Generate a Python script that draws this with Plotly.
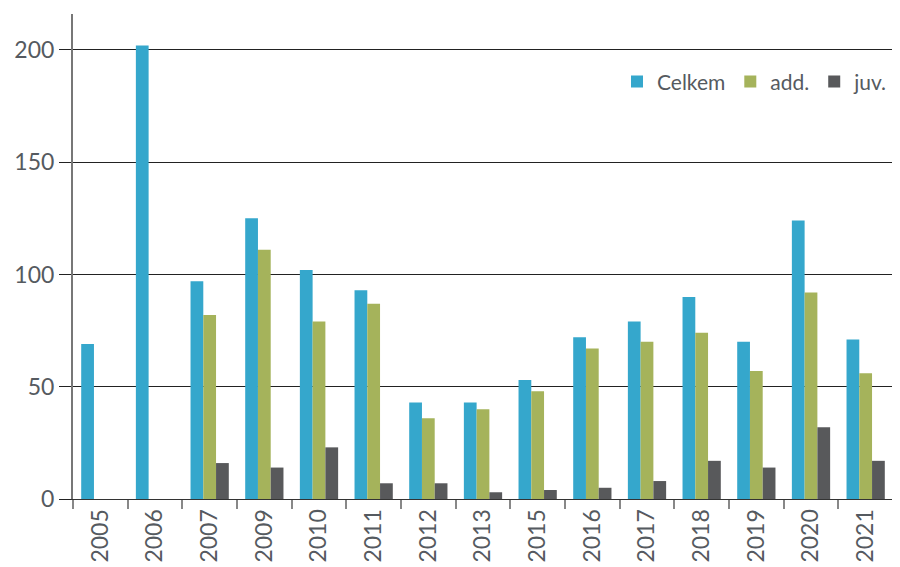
import plotly.graph_objects as go

years = ["2005", "2006", "2007", "2009", "2010", "2011", "2012", "2013",
         "2015", "2016", "2017", "2018", "2019", "2020", "2021"]
celkem = [69, 202, 97, 125, 102, 93, 43, 43, 53, 72, 79, 90, 70, 124, 71]
add_vals = [None, None, 82, 111, 79, 87, 36, 40, 48, 67, 70, 74, 57, 92, 56]
juv_vals = [None, None, 16, 14, 23, 7, 7, 3, 4, 5, 8, 17, 14, 32, 17]

names = ["Celkem", "add.", "juv."]
colors = ["#35a7cc", "#a5b35b", "#58595b"]

fig = go.Figure()
for n, vals, c in zip(names, [celkem, add_vals, juv_vals], colors):
    fig.add_trace(go.Bar(x=years, y=vals, name=n, marker=dict(color=c, line=dict(width=0))))

fig.update_layout(
    width=892, height=559,
    margin=dict(l=65, r=7, t=6, b=68, autoexpand=False),
    plot_bgcolor="white", paper_bgcolor="white",
    barmode="group", bargap=0.3, bargroupgap=0,
    font=dict(family="Lato, Open Sans, sans-serif", size=22, color="#555a60"),
    legend=dict(orientation="h", x=1.0, xanchor="right", y=0.86, yanchor="middle",
                font=dict(size=21, color="#555a60"), itemwidth=30, traceorder="normal",
                bgcolor="rgba(0,0,0,0)", tracegroupgap=0),
    showlegend=True,
)
fig.update_xaxes(
    type="category", tickangle=-90, showline=True, linecolor="#333333", linewidth=1,
    ticks="outside", tickson="boundaries", ticklen=9, tickcolor="#888888", tickwidth=2,
    showgrid=False, tickfont=dict(size=23, color="#555a60"), automargin=False,
)
fig.update_yaxes(
    range=[0, 216], tickvals=[0, 50, 100, 150, 200], showgrid=True,
    gridcolor="#222222", gridwidth=1, zeroline=True, zerolinecolor="#222222", zerolinewidth=1,
    showline=True, linecolor="#777777", linewidth=2, ticks="outside", ticklen=12,
    tickcolor="#222222", tickwidth=1, tickfont=dict(size=23, color="#555a60"), automargin=False,
)

fig.write_html("out.html")
